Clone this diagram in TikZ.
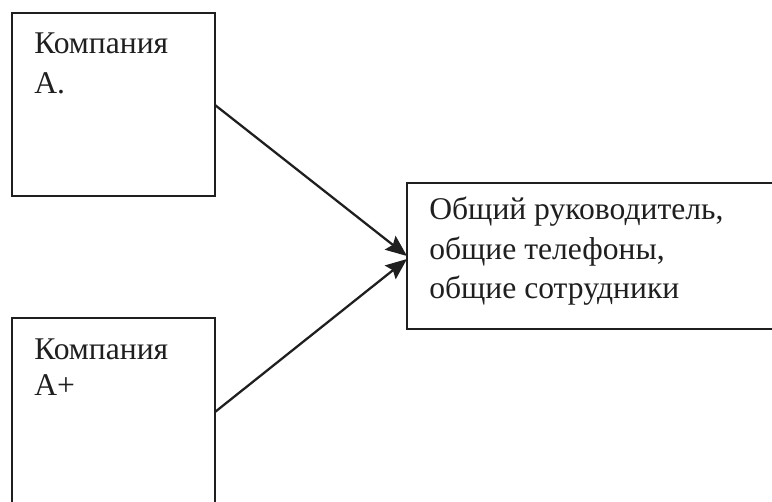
\documentclass[tikz,border=0pt]{standalone}
\usepackage{fontspec}
\setmainfont{Liberation Serif}
\usetikzlibrary{arrows.meta}
\begin{document}
\begin{tikzpicture}[x=0.75pt,y=-0.75pt,
  boxline/.style={draw=black!88,line width=1.6pt},
  label/.style={anchor=base west,inner sep=0pt,font=\fontsize{23.7pt}{30pt}\selectfont,text=black!88},
  link/.style={draw=black!88,line width=1.7pt,-{Stealth[length=16pt,width=13pt,inset=2.5pt]}}]
\useasboundingbox (0,0) rectangle (772,501);
\clip (0,0) rectangle (772,501);
\fill[white] (0,0) rectangle (772,501);

% company boxes (the lower one and the right one run past the frame)
\draw[boxline] (12,13) rectangle (215,196);
\draw[boxline] (12,318) rectangle (215,530);
\draw[boxline] (407,183) rectangle (800,329);

\coordinate (aOut) at (215,105);
\coordinate (bOut) at (215,412);
\coordinate (cInA) at (407,256);
\coordinate (cInB) at (407,259);

% captions
\node[label] (a1) at (34,53) {Компания};
\node[label] (a2) at (34,93) {А.};
\node[label] (b1) at (34,359) {Компания};
\node[label] (b2) at (34,395) {А+};
\node[label] (c1) at (429,219) {Общий руководитель,};
\node[label] (c2) at (429,259) {общие телефоны,};
\node[label] (c3) at (429,298) {общие сотрудники};

% connectors
\draw[link] (aOut) -- (cInA);
\draw[link] (bOut) -- (cInB);
\end{tikzpicture}
\end{document}
